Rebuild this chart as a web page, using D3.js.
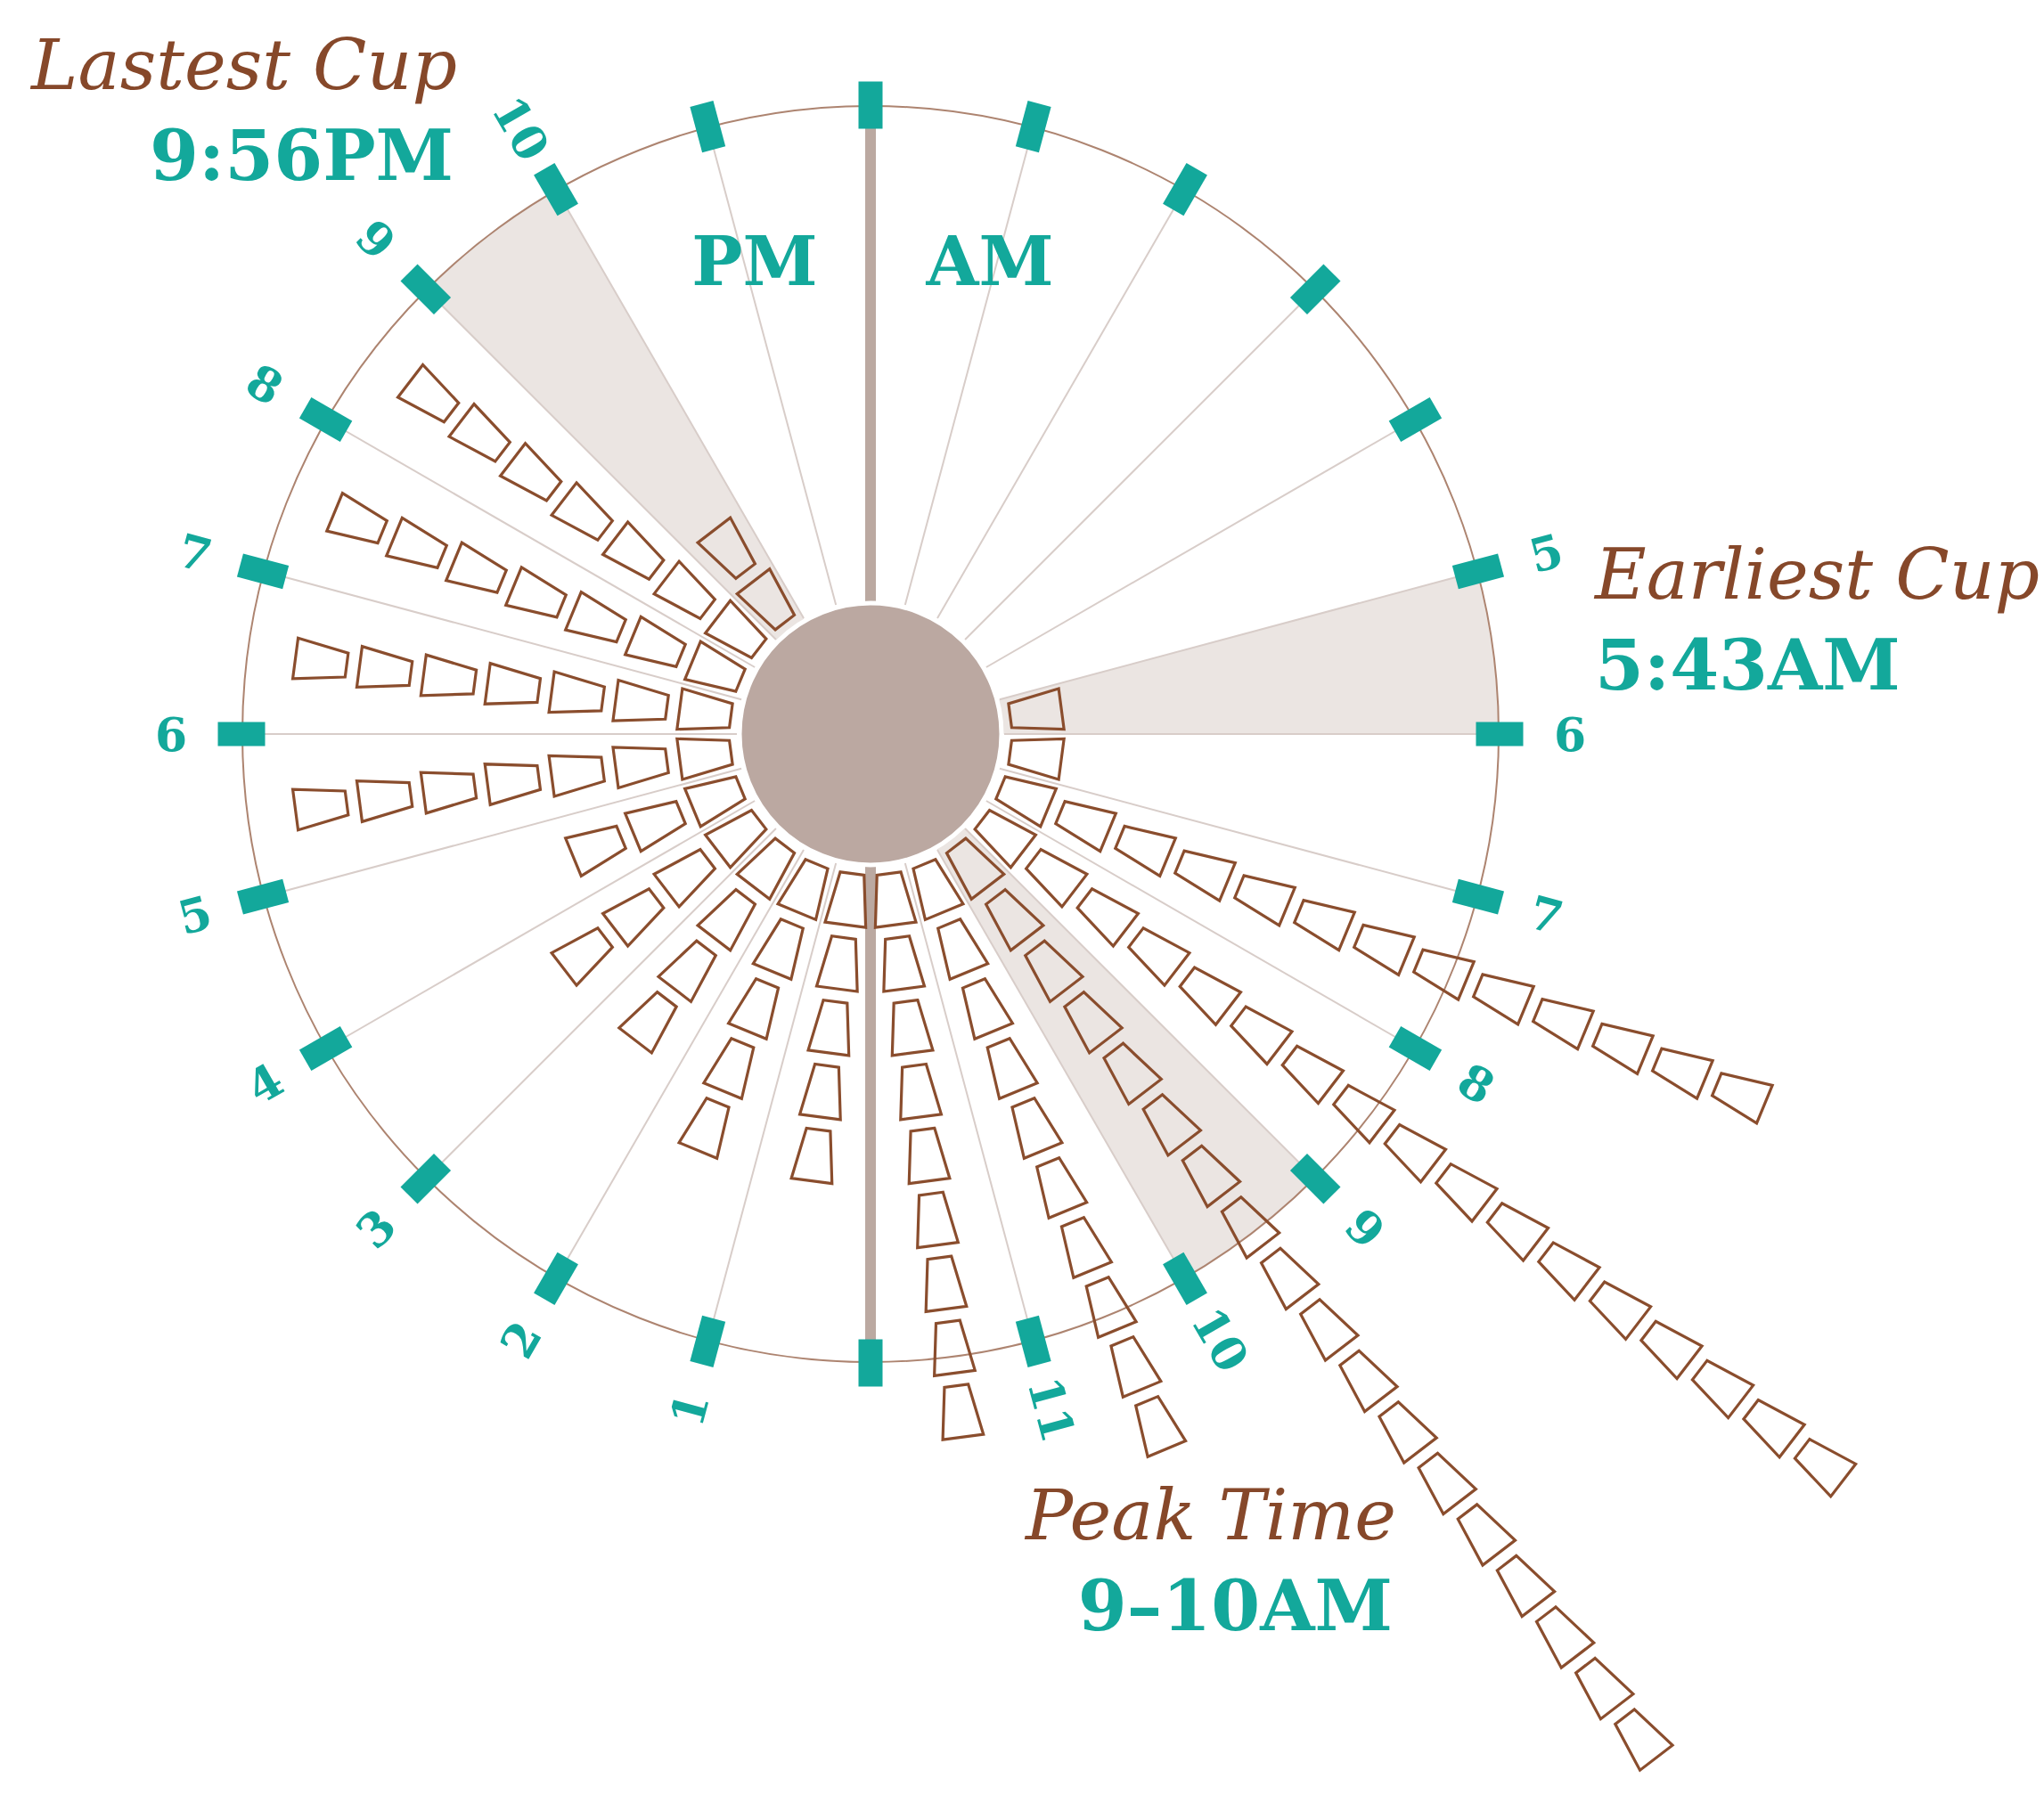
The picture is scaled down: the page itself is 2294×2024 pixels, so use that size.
<!DOCTYPE html>
<html>
<head>
<meta charset="utf-8">
<script src="https://cdn.jsdelivr.net/npm/d3@7"></script>
<style>
  body { margin: 0; background: #fff; }
  svg { display: block; }
</style>
</head>
<body>
<svg width="2294" height="2024"></svg>
<script>
// cups per hour
var cupsAM = [0, 0, 0, 0, 0, 1, 1, 13, 17, 18, 10, 9];
var cupsPM = [5, 5, 4, 4, 3, 7, 7, 7, 7, 2, 0, 0];
// hours (0-23) that get a shaded wedge
var shadedHours = [5, 9, 21];
// hours that carry a number next to the tick
var labelHours = [5, 6, 7, 8, 9, 10, 11, 13, 14, 15, 16, 17, 18, 19, 20, 21, 22];
var halfLabels = ["PM", "AM"];
var callouts = [
  {title: "Lastest Cup", value: "9:56PM"},
  {title: "Earliest Cup", value: "5:43AM"},
  {title: "Peak Time", value: "9\u201310AM"}
];

var teal = "#13a89b", brown = "#86482a", cupStroke = "#8a4d2d";

var svg = d3.select("svg"),
    cx = 977, cy = 824,
    R = 705, inner = 147,
    g = svg.append("g").attr("transform", "translate(" + cx + "," + cy + ")");

var counts = cupsAM.concat(cupsPM);
var hours = counts.map(function(d, i) { return i; });

var angle = d3.scaleLinear().domain([0, 24]).range([0, 2 * Math.PI]);
var deg = function(h) { return angle(h) * 180 / Math.PI; };

// radius of cup k (inner edge)
var cupR = d3.scaleLinear().domain([0, 1]).range([158, 230.5]);
var cupLen = 58, cupIn = 13.5, cupOut = 23;

// shaded wedges
var arc = d3.arc();
g.selectAll(".wedge")
    .data(shadedHours)
  .enter().append("path")
    .attr("class", "wedge")
    .attr("d", function(h) {
      return arc({innerRadius: 0, outerRadius: R, startAngle: angle(h), endAngle: angle(h + 1)});
    })
    .attr("fill", "#ebe5e2");

// hour lines
g.selectAll(".hline")
    .data(hours.filter(function(h) { return h % 12 !== 0; }))
  .enter().append("line")
    .attr("class", "hline")
    .attr("x1", function(h) { return 150 * Math.sin(angle(h)); })
    .attr("y1", function(h) { return -150 * Math.cos(angle(h)); })
    .attr("x2", function(h) { return R * Math.sin(angle(h)); })
    .attr("y2", function(h) { return -R * Math.cos(angle(h)); })
    .attr("stroke", "#d8cdc9")
    .attr("stroke-width", 2);

g.append("circle")
    .attr("r", R)
    .attr("fill", "none")
    .attr("stroke", "#ad8470")
    .attr("stroke-width", 2);

// noon / midnight bar
g.append("line")
    .attr("x1", 0).attr("x2", 0)
    .attr("y1", -R).attr("y2", R)
    .attr("stroke", "#bba9a1")
    .attr("stroke-width", 12);

g.append("circle")
    .attr("r", inner)
    .attr("fill", "#bba8a1")
    .attr("stroke", "#fff")
    .attr("stroke-width", 5);

// tick marks
g.selectAll(".tick")
    .data(hours)
  .enter().append("rect")
    .attr("class", "tick")
    .attr("transform", function(h) { return "rotate(" + deg(h) + ")"; })
    .attr("x", -13.5)
    .attr("y", -706 - 26.5)
    .attr("width", 27)
    .attr("height", 53)
    .attr("fill", teal);

// cups
var cupLine = d3.line();
var cupData = [];
counts.forEach(function(n, h) {
  for (var k = 0; k < n; k++) cupData.push({h: h, k: k});
});

g.selectAll(".cup")
    .data(cupData)
  .enter().append("path")
    .attr("class", "cup")
    .attr("transform", function(d) { return "rotate(" + deg(d.h + 0.5) + ")"; })
    .attr("d", function(d) {
      var r0 = cupR(d.k), r1 = r0 + cupLen;
      return cupLine([[-cupIn, -r0], [cupIn, -r0], [cupOut, -r1], [-cupOut, -r1]]) + "Z";
    })
    .attr("fill", "none")
    .attr("stroke", cupStroke)
    .attr("stroke-width", 3.2)
    .attr("stroke-linejoin", "miter");

// hour numbers
g.selectAll(".hlabel")
    .data(labelHours)
  .enter().append("text")
    .attr("class", "hlabel")
    .attr("transform", function(h) {
      var a = angle(h), r = 785;
      var rot = h < 12 ? deg(h) - 90 : deg(h) + 90;
      return "translate(" + (r * Math.sin(a)) + "," + (-r * Math.cos(a)) + ") rotate(" + rot + ")";
    })
    .attr("text-anchor", "middle")
    .attr("dominant-baseline", "central")
    .attr("font-family", "DejaVu Serif")
    .attr("font-weight", "bold")
    .attr("font-size", 52)
    .attr("fill", teal)
    .text(function(h) { return h % 12; });

// PM / AM
svg.selectAll(".half")
    .data(halfLabels)
  .enter().append("text")
    .attr("class", "half")
    .attr("x", function(d, i) { return i === 0 ? 847 : 1111; })
    .attr("y", 320)
    .attr("text-anchor", "middle")
    .attr("font-family", "DejaVu Serif")
    .attr("font-weight", "bold")
    .attr("font-size", 76)
    .attr("fill", teal)
    .text(function(d) { return d; });

// callouts
var spots = [
  {x: 513, y: 100, anchor: "end"},
  {x: 1790, y: 672, anchor: "start"},
  {x: 1567, y: 1728, anchor: "end"}
];
var call = svg.selectAll(".callout")
    .data(callouts)
  .enter().append("g")
    .attr("class", "callout")
    .attr("transform", function(d, i) { return "translate(" + spots[i].x + "," + spots[i].y + ")"; });

call.append("text")
    .attr("text-anchor", function(d, i) { return spots[i].anchor; })
    .attr("font-family", "DejaVu Serif")
    .attr("font-style", "italic")
    .attr("font-size", 79)
    .attr("fill", brown)
    .text(function(d) { return d.title; });

call.append("text")
    .attr("y", 102)
    .attr("x", function(d, i) { return i === 1 ? 0 : -4; })
    .attr("text-anchor", function(d, i) { return spots[i].anchor; })
    .attr("font-family", "DejaVu Serif")
    .attr("font-weight", "bold")
    .attr("font-size", 79)
    .attr("fill", teal)
    .text(function(d) { return d.value; });
</script>
</body>
</html>
